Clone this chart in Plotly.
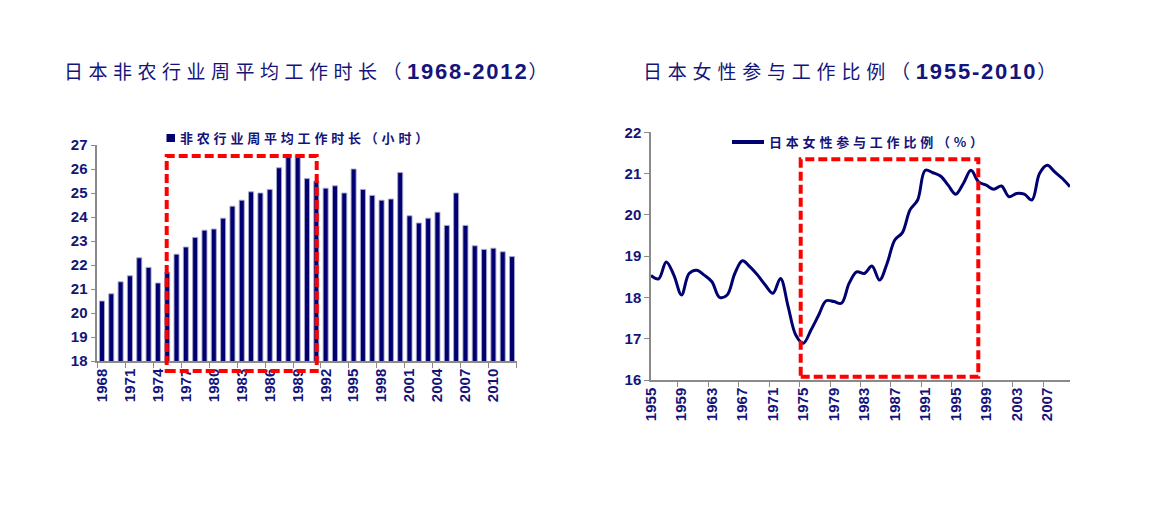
import plotly.graph_objects as go

# ---------------- data ----------------
hours_years = [str(y) for y in range(1968, 2013)]
hours = [20.5, 20.8, 21.3, 21.55, 22.3, 21.9, 21.25, 21.7, 22.45, 22.75,
         23.15, 23.45, 23.5, 23.95, 24.45, 24.7, 25.05, 25.0, 25.15, 26.05,
         26.6, 26.6, 25.6, 25.5, 25.2, 25.3, 25.0, 26.0, 25.15, 24.9,
         24.7, 24.75, 25.85, 24.05, 23.75, 23.95, 24.2, 23.65, 25.0, 23.65,
         22.8, 22.65, 22.7, 22.55, 22.35]

female_years = [str(y) for y in range(1955, 2011)]
female_share = [18.53, 18.45, 18.86, 18.54, 18.06, 18.58, 18.66, 18.54, 18.38, 18.0,
                18.06, 18.58, 18.89, 18.74, 18.54, 18.3, 18.1, 18.46, 17.78, 17.09,
                16.89, 17.21, 17.57, 17.92, 17.9, 17.86, 18.34, 18.62, 18.58, 18.76,
                18.42, 18.83, 19.39, 19.57, 20.12, 20.36, 21.08, 21.02, 20.94, 20.72,
                20.5, 20.76, 21.08, 20.8, 20.72, 20.62, 20.7, 20.44, 20.52, 20.5,
                20.36, 21.0, 21.2, 21.04, 20.88, 20.68]

left_title_cn = "日本非农行业周平均工作时长（"
left_title_num = "1968-2012"
right_title_cn = "日本女性参与工作比例（"
right_title_num = "1955-2010"
left_legend = "非农行业周平均工作时长（小时）"
right_legend = "日本女性参与工作比例（%）"

# ---------------- styling ----------------
W, H = 1152, 520
NAVY = "#000070"
TXT = "#14147a"
AXIS = "#8a8a8a"
CJK = "Noto Sans CJK SC"
NUM = "Liberation Sans, Arial, sans-serif"


def px(x):
    return x / W


def py(y):
    return 1 - y / H


fig = go.Figure()

fig.add_trace(go.Bar(
    x=hours_years, y=hours, xaxis="x", yaxis="y",
    marker=dict(color=NAVY, line=dict(color="rgba(170,170,205,0.9)", width=1)),
    showlegend=False, hoverinfo="x+y",
))

fig.add_trace(go.Scatter(
    x=female_years, y=female_share, xaxis="x2", yaxis="y2",
    mode="lines", line=dict(color=NAVY, width=3, shape="spline", smoothing=1.0),
    showlegend=False,
))

tickfont = dict(family=NUM, size=15, color=TXT, weight="bold")

common_x = dict(type="category", tickson="boundaries", ticks="outside", ticklen=5,
                tickcolor=AXIS, tickwidth=1, showline=True, linecolor=AXIS, linewidth=1.5,
                showgrid=False, zeroline=False, tickangle=-90, tickfont=tickfont,
                automargin=False)
common_y = dict(ticks="outside", ticklen=5, tickcolor=AXIS, tickwidth=1, showline=True,
                linecolor=AXIS, linewidth=1.5, showgrid=False, zeroline=False,
                tickfont=tickfont, dtick=1, automargin=False)

fig.update_layout(
    width=W, height=H, autosize=False,
    margin=dict(l=0, r=0, t=0, b=0, pad=0),
    paper_bgcolor="white", plot_bgcolor="white",
    bargap=0.46,
    xaxis=dict(domain=[px(97.3), px(516.7)], anchor="y", dtick=3, **common_x),
    yaxis=dict(domain=[py(361), py(145)], anchor="x", range=[18, 27], **common_y),
    xaxis2=dict(domain=[px(651), px(1070)], anchor="y2", dtick=4, **common_x),
    yaxis2=dict(domain=[py(380), py(132.3)], anchor="x2", range=[16, 22], **common_y),
)


def title_html(cn, num, size_cn, ls_cn, size_num, ls_num):
    return (f"<span style='font-family:{CJK};font-size:{size_cn}px;letter-spacing:{ls_cn}px'>{cn}</span>"
            f"<span style='font-family:Liberation Sans;font-size:{size_num}px;font-weight:bold;letter-spacing:{ls_num}px'>{num}</span>"
            f"<span style='font-family:{CJK};font-size:{size_cn}px'>）</span>")


annotations = [
    dict(x=px(62), y=py(71), xref="paper", yref="paper", xanchor="left", yanchor="middle",
         showarrow=False, text=title_html(left_title_cn, left_title_num, 19, 5.5, 22, 1.8),
         font=dict(color=TXT, size=20, family=CJK)),
    dict(x=px(641), y=py(71), xref="paper", yref="paper", xanchor="left", yanchor="middle",
         showarrow=False, text=title_html(right_title_cn, right_title_num, 19, 5.8, 22, 1.8),
         font=dict(color=TXT, size=20, family=CJK)),
    dict(x=px(178), y=py(138), xref="paper", yref="paper", xanchor="left", yanchor="middle",
         showarrow=False,
         text=f"<span style='letter-spacing:3.8px'>{left_legend}</span>",
         font=dict(color=TXT, size=13, family=CJK, weight="bold")),
    dict(x=px(767), y=py(142), xref="paper", yref="paper", xanchor="left", yanchor="middle",
         showarrow=False,
         text=f"<span style='letter-spacing:3.8px'>{right_legend}</span>",
         font=dict(color=TXT, size=13, family=CJK, weight="bold")),
]

shapes = [
    # legend symbols
    dict(type="rect", xref="paper", yref="paper", x0=px(166.5), x1=px(175), y0=py(142), y1=py(134),
         fillcolor=NAVY, line=dict(width=0)),
    dict(type="line", xref="paper", yref="paper", x0=px(732), x1=px(764), y0=py(142), y1=py(142),
         line=dict(color=NAVY, width=4)),
    # highlight boxes
    dict(type="rect", xref="paper", yref="paper", x0=px(166.7), x1=px(316.7), y0=py(371), y1=py(156),
         line=dict(color="#ff0000", width=4, dash="9px,4px"), fillcolor="rgba(0,0,0,0)", layer="above"),
    dict(type="rect", xref="paper", yref="paper", x0=px(800.7), x1=px(978.3), y0=py(376.7), y1=py(159.3),
         line=dict(color="#ff0000", width=4, dash="9px,4px"), fillcolor="rgba(0,0,0,0)", layer="above"),
]

fig.update_layout(annotations=annotations, shapes=shapes)

post = ("document.documentElement.style.margin='0';document.body.style.margin='0';"
        "document.body.style.padding='0';document.body.style.overflow='hidden';")

fig.write_html("out.html", include_plotlyjs=True,
               config={"displayModeBar": False, "responsive": False},
               post_script=post)
